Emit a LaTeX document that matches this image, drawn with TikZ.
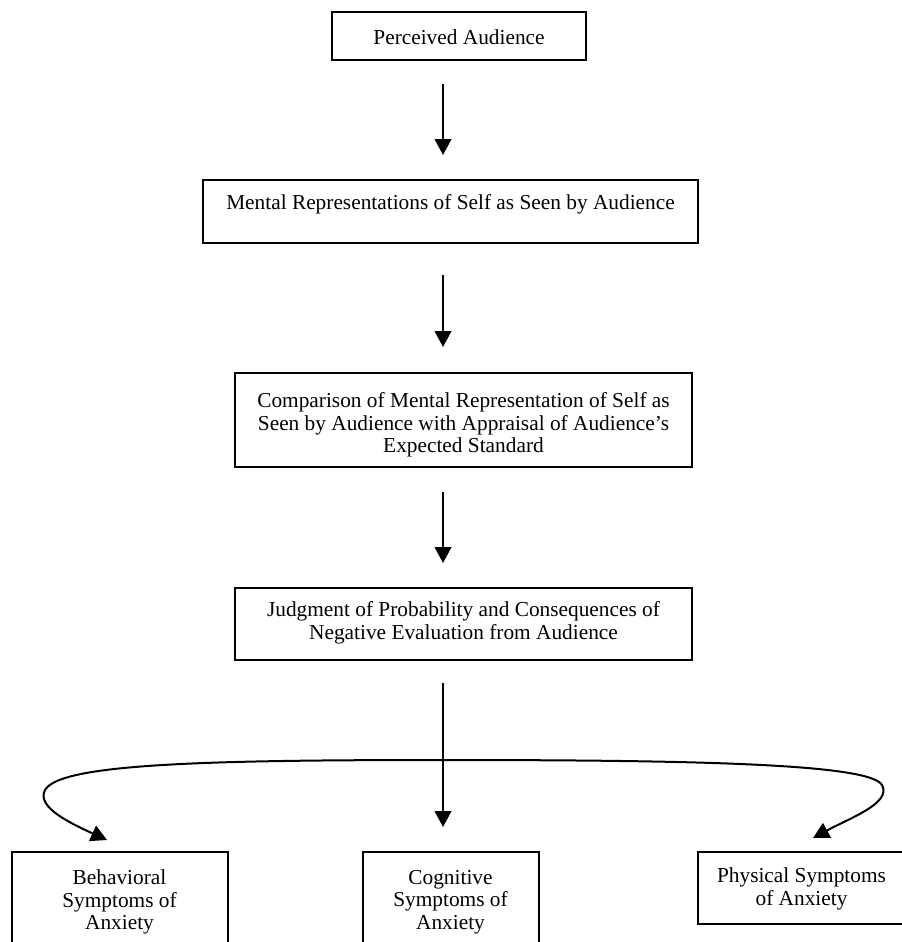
\documentclass[tikz,border=0pt]{standalone}
\usepackage{fontspec}
\setmainfont{Liberation Serif}
\usetikzlibrary{arrows.meta}
\tikzset{
  bx/.style n args={2}{draw, line width=1.5pt, rectangle, inner sep=0pt, minimum width=#1*0.75pt, minimum height=#2*0.75pt},
  txt/.style={align=center, inner sep=0pt, font=\fontsize{16}{17}\selectfont},
  arr/.style={line width=1.5pt, -{Triangle[width=12.5pt,length=12pt]}},
}
\begin{document}
\begin{tikzpicture}[x=0.75pt,y=-0.75pt]
\useasboundingbox (0,0) rectangle (901,942);
% boxes
\node[bx={254}{48}] (b1) at (459,36) {};
\node[bx={495}{63}] (b2) at (450.5,211.5) {};
\node[bx={457}{94}] (b3) at (463.5,420) {};
\node[bx={457}{72}] (b4) at (463.5,624) {};
\node[bx={216}{110}] (b5) at (119.5,907) {};
\node[bx={176}{110}] (b6) at (450.5,907) {};
\node[bx={207}{72}] (b7) at (801.5,888) {};
% texts
\node[txt] (t1) at (459,37) {Perceived Audience};
\node[txt] (t2) at (450.5,204) {Mental Representations of Self as Seen by Audience};
\node[txt] (t3) at (463.5,425) {Comparison of Mental Representation of Self as\\Seen by Audience with Appraisal of Audience’s\\Expected Standard};
\node[txt] (t4) at (463.5,623) {Judgment of Probability and Consequences of\\Negative Evaluation from Audience};
\node[txt] (t5) at (119.5,902) {Behavioral\\Symptoms of\\Anxiety};
\node[txt] (t6) at (450.5,902) {Cognitive\\Symptoms of\\Anxiety};
\node[txt] (t7) at (801.5,889) {Physical Symptoms\\of Anxiety};
% arrow end points
\coordinate (a1s) at (443,84);  \coordinate (a1e) at (443,155);
\coordinate (a2s) at (443,275); \coordinate (a2e) at (443,347);
\coordinate (a3s) at (443,492); \coordinate (a3e) at (443,563);
\coordinate (a4s) at (443,683); \coordinate (a4e) at (443,827);
\coordinate (split) at (443,760);
\coordinate (lt) at (107,840);
\coordinate (rt) at (813,838);
\draw[arr] (a1s) -- (a1e);
\draw[arr] (a2s) -- (a2e);
\draw[arr] (a3s) -- (a3e);
\draw[arr] (a4s) -- (a4e);
\draw[arr] (split) .. controls (200,760) and (60,764) .. (45,790) .. controls (36,807) and (70,823) .. (lt);
\draw[arr] (split) .. controls (700,760) and (870,764) .. (882,785) .. controls (892,803) and (850,818) .. (rt);
\end{tikzpicture}
\end{document}
